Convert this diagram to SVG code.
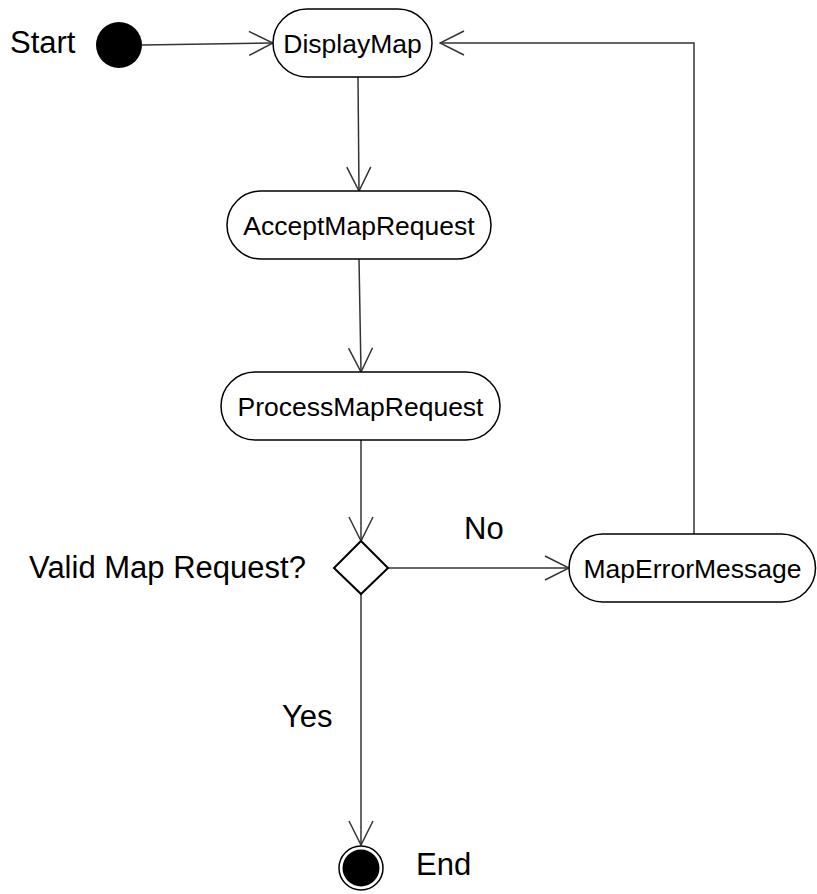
<svg xmlns="http://www.w3.org/2000/svg" width="817" height="894" viewBox="0 0 817 894">
<style>
.node{fill:#fff;stroke:#000;stroke-width:1.5}
.conn{fill:none;stroke:#333;stroke-width:1.5}
.nt{font-family:"Liberation Sans",Arial,sans-serif;font-size:26.5px;fill:#000;text-anchor:middle}
.lb{font-family:"Liberation Sans",Arial,sans-serif;font-size:31px;fill:#000}
</style>
<defs>
<marker id="arr" viewBox="0 0 26 26" refX="25" refY="13" markerWidth="26" markerHeight="26" markerUnits="userSpaceOnUse" orient="auto">
<path d="M1,1 L25,13 L1,25" fill="none" stroke="#333" stroke-width="1.5"/>
</marker>
</defs>
<rect width="817" height="894" fill="#fff"/>
<g id="connectors">
<path class="conn" d="M142,45 L273,43" marker-end="url(#arr)"/>
<path class="conn" d="M358,77 L359,191" marker-end="url(#arr)"/>
<path class="conn" d="M359,259 L361,372" marker-end="url(#arr)"/>
<path class="conn" d="M361,440 L361,541" marker-end="url(#arr)"/>
<path class="conn" d="M388,568 L569,568" marker-end="url(#arr)"/>
<path class="conn" d="M694,534 L694,43 L440,43" marker-end="url(#arr)"/>
<path class="conn" d="M361,594 L361,845" marker-end="url(#arr)"/>
</g>
<g id="start">
<circle cx="119" cy="45" r="23" fill="#000"/>
<text class="lb" x="10" y="53">Start</text>
</g>
<g id="DisplayMap">
<rect class="node" x="273" y="9" width="159" height="68" rx="34" ry="34"/>
<text class="nt" x="352.5" y="52.5">DisplayMap</text>
</g>
<g id="AcceptMapRequest">
<rect class="node" x="227" y="191" width="264" height="68" rx="34" ry="34"/>
<text class="nt" x="359" y="234.5">AcceptMapRequest</text>
</g>
<g id="ProcessMapRequest">
<rect class="node" x="221" y="372" width="279" height="68" rx="34" ry="34"/>
<text class="nt" x="360.5" y="415.5">ProcessMapRequest</text>
</g>
<g id="decision">
<path d="M361,541 L388,568 L361,594 L334,568 Z" fill="#fff" stroke="#000" stroke-width="2"/>
<text class="lb" x="29" y="578">Valid Map Request?</text>
</g>
<g id="MapErrorMessage">
<rect class="node" x="569" y="534" width="246.5" height="68" rx="34" ry="34"/>
<text class="nt" x="692.5" y="577.5">MapErrorMessage</text>
</g>
<g id="labels">
<text class="lb" x="464" y="539">No</text>
<text class="lb" x="282" y="727">Yes</text>
</g>
<g id="end">
<circle cx="361" cy="868" r="22" fill="#fff" stroke="#000" stroke-width="1.5"/>
<circle cx="361" cy="868" r="18.5" fill="#000"/>
<text class="lb" x="416" y="875">End</text>
</g>
</svg>
